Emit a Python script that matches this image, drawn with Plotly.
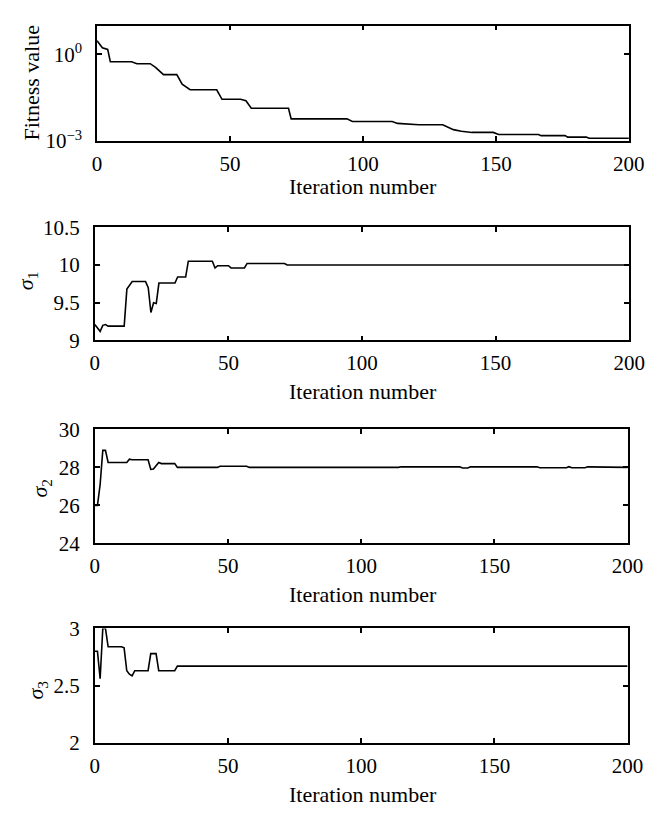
import plotly.graph_objects as go

# Fitness value per iteration (log scale)
fit_iter = [0, 1, 2, 4, 5, 13, 15, 20, 22, 25, 30, 32, 35, 45, 47, 54, 56, 58, 72, 73,
            94, 96, 111, 113, 121, 130, 134, 137, 141, 149, 151, 166, 167, 176, 177,
            184, 185, 200]
fit_val = [3.0, 2.2, 1.7, 1.5, 0.56, 0.56, 0.48, 0.48, 0.36, 0.2, 0.2, 0.093, 0.06, 0.06,
           0.028, 0.028, 0.025, 0.0138, 0.0138, 0.0059, 0.0059, 0.0048, 0.0048, 0.0041,
           0.0037, 0.0037, 0.0025, 0.0022, 0.002, 0.002, 0.0017, 0.0017, 0.00155, 0.00155,
           0.00138, 0.00138, 0.00126, 0.00126]

# sigma_1
s1_iter = [0, 1, 2, 3, 4, 5, 11, 12, 14, 19, 20, 21, 22, 23, 24, 30, 31, 34, 35, 44, 45,
           46, 50, 51, 56, 57, 71, 72, 88, 89, 90, 105, 106, 111, 112, 200]
s1_val = [9.21, 9.16, 9.12, 9.20, 9.21, 9.19, 9.19, 9.68, 9.78, 9.78, 9.70, 9.37, 9.50,
          9.49, 9.76, 9.76, 9.84, 9.84, 10.05, 10.05, 9.96, 9.99, 9.99, 9.96, 9.96, 10.02,
          10.02, 10.0, 10.0, 10.01, 10.0, 10.0, 10.01, 10.01, 10.0, 10.0]

# sigma_2
s2_iter = [0, 1, 2, 3, 4, 5, 12, 13, 14, 20, 21, 22, 24, 25, 30, 31, 46, 47, 57, 58, 114,
           115, 137, 138, 140, 141, 166, 167, 177, 178, 179, 184, 185, 192, 193, 200]
s2_val = [26.0, 26.0, 27.1, 28.9, 28.9, 28.26, 28.26, 28.43, 28.4, 28.4, 27.9, 27.92,
          28.26, 28.2, 28.2, 28.0, 28.0, 28.06, 28.06, 28.0, 28.0, 28.03, 28.03, 27.97,
          27.97, 28.03, 28.03, 27.98, 27.98, 28.04, 27.98, 27.98, 28.03, 28.03, 28.0, 28.0]

# sigma_3
s3_iter = [0, 1, 2, 3, 4, 5, 10, 11, 12, 13, 14, 15, 20, 21, 23, 24, 30, 31, 200]
s3_val = [2.80, 2.80, 2.56, 3.0, 3.0, 2.84, 2.84, 2.83, 2.63, 2.60, 2.585, 2.63, 2.63,
          2.78, 2.78, 2.63, 2.63, 2.67, 2.67]

x_ticks = [0, 50, 100, 150, 200]
W, H = 672, 822
FONT = "Liberation Serif"

fig = go.Figure()

# pixel boxes: (left, right, top, bottom)
boxes = [(95, 644, 14, 133), (92.7, 644.3, 221.7, 338.3),
         (92.7, 642.7, 430, 547.3), (92.7, 642.7, 635, 752.7)]
series = [(fit_iter, fit_val), (s1_iter, s1_val), (s2_iter, s2_val), (s3_iter, s3_val)]

for i, ((xs, ys), (l, r, t, b)) in enumerate(zip(series, boxes)):
    n = "" if i == 0 else str(i + 1)
    fig.add_trace(go.Scatter(x=xs, y=ys, mode="lines", xaxis="x" + n, yaxis="y" + n,
                             line=dict(color="black", width=1.6), showlegend=False,
                             hoverinfo="skip"))
    common = dict(showline=True, linecolor="black", linewidth=1.6, mirror="ticks",
                  ticks="inside", ticklen=5, tickwidth=1.5, tickcolor="black",
                  showgrid=False, zeroline=False,
                  tickfont=dict(family=FONT, size=21, color="black"))
    fig.layout["xaxis" + n] = dict(domain=[l / W, r / W], anchor="y" + n, range=[0, 200],
                                   tickvals=x_ticks, ticklabelstandoff=3, **common)
    fig.layout["yaxis" + n] = dict(domain=[1 - b / H, 1 - t / H], anchor="x" + n,
                                   ticklabelstandoff=9, **common)

fig.update_layout(
    yaxis=dict(type="log", range=[-3, 1], tickvals=[0.001, 1],
               ticktext=["10<sup>\u22123</sup>", "10<sup>0</sup>"]),
    yaxis2=dict(range=[9, 10.5], tickvals=[9, 9.5, 10, 10.5], ticktext=["9", "9.5", "10", "10.5"]),
    yaxis3=dict(range=[24, 30], tickvals=[24, 26, 28, 30]),
    yaxis4=dict(range=[2, 3], tickvals=[2, 2.5, 3], ticktext=["2", "2.5", "3"]),
)

# axis titles as annotations placed at pixel positions
x_title_y = [180, 391, 600, 806]
for yc in x_title_y:
    fig.add_annotation(text="Iteration number", x=370 / W, y=1 - yc / H, xref="paper",
                       yref="paper", showarrow=False, xanchor="center", yanchor="middle",
                       font=dict(family=FONT, size=22, color="black"))

y_titles = [("Fitness value", 27, 72.5), ("<i>\u03c3</i><sub>1</sub>", 23, 277),
            ("<i>\u03c3</i><sub>2</sub>", 37, 490), ("<i>\u03c3</i><sub>3</sub>", 33, 698)]
for txt, xc, yc in y_titles:
    fig.add_annotation(text=txt, x=xc / W, y=1 - yc / H, xref="paper", yref="paper",
                       showarrow=False, textangle=-90, xanchor="center", yanchor="middle",
                       font=dict(family=FONT, size=22, color="black"))

fig.update_layout(width=W, height=H, margin=dict(l=0, r=0, t=0, b=0),
                  plot_bgcolor="white", paper_bgcolor="white", hovermode=False)

fig.write_html("out.html", config={"displayModeBar": False},
               post_script="document.body.style.margin='0';")
